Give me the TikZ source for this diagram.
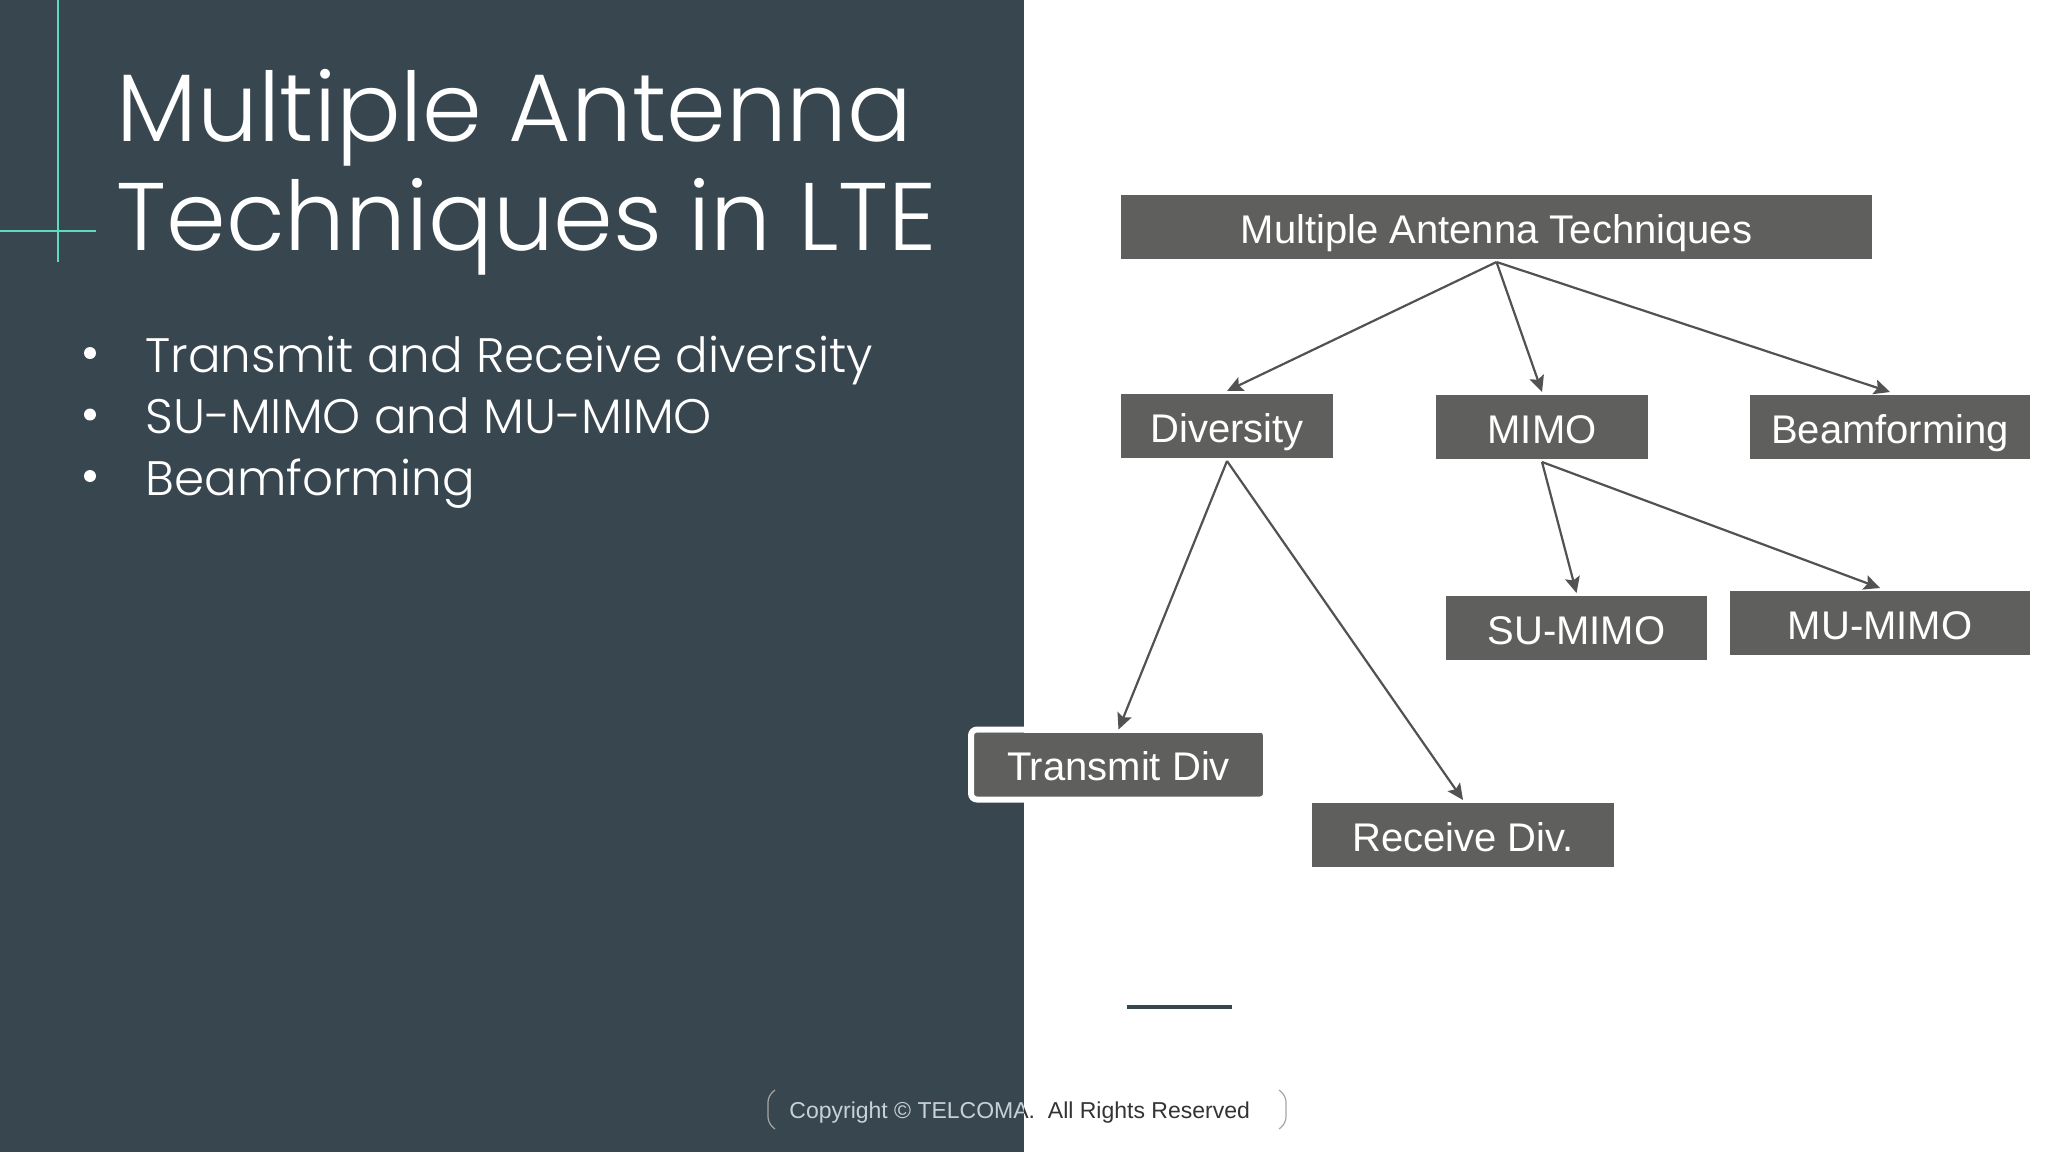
\documentclass[tikz,border=0pt]{standalone}
\usepackage{fontspec}
\usepackage{tikz}
\usetikzlibrary{arrows.meta,positioning,calc}
\setmainfont{Liberation Sans}
\newfontfamily\slidefont{Poppins Light}

\definecolor{panel}{HTML}{38474F}
\definecolor{accent}{HTML}{5FD9BF}
\definecolor{boxgray}{HTML}{5F605E}
\definecolor{arrowgray}{HTML}{525252}
\definecolor{footlight}{HTML}{C9D1D6}
\definecolor{footdark}{HTML}{333333}

\tikzset{
  techbox/.style={fill=boxgray, text=white, inner sep=0pt, outer sep=1.5pt,
    minimum height=32pt, text height=16pt, text depth=0pt, font=\fontsize{20}{24}\selectfont},
  branch/.style={draw=arrowgray, line width=1.1pt, -{Stealth[length=8pt,width=7.5pt,inset=1.5pt]}},
  slidetext/.style={anchor=base west, inner sep=0pt, text=white},
}

\begin{document}
\begin{tikzpicture}[x=0.5pt, y=-0.5pt]
  \useasboundingbox (0,0) rectangle (2048,1152);
  \fill[white] (0,0) rectangle (2048,1152);
  \fill[panel] (0,0) rectangle (1024,1152);
  \draw[accent, line width=1pt] (58,0) -- (58,262);
  \draw[accent, line width=1pt] (0,231) -- (96,231);

  % title
  \node[slidetext, font=\slidefont\fontsize{48}{50}\selectfont] (title1) at (116,141) {Multiple Antenna};
  \node[slidetext, font=\slidefont\fontsize{48}{50}\selectfont] (title2) at (116,250) {Techniques in LTE};

  % bullets
  \foreach \txt [count=\i] in {Transmit and Receive diversity, SU-MIMO and MU-MIMO, Beamforming}{
    \node[circle, fill=white, inner sep=0pt, minimum size=6pt] (dot\i) at ({90},{353+61.5*(\i-1)}) {};
    \node[slidetext, font=\slidefont\fontsize{24.2}{28}\selectfont] (item\i) at ({145},{372+61.5*(\i-1)}) {\txt};
  }

  % tree
  \node[techbox, minimum width=375.5pt] (mat)    at (1496.5,227) {Multiple Antenna Techniques};
  \node[techbox, minimum width=106pt]   (div)    at (1227,426)   {Diversity};
  \node[techbox, minimum width=106pt]   (mimo)   at (1542,427)   {MIMO};
  \node[techbox, minimum width=140pt]   (beam)   at (1890,427)   {Beamforming};
  \node[techbox, minimum width=130.5pt] (sumimo) at (1576.5,628) {SU-MIMO};
  \node[techbox, minimum width=150pt]   (mumimo) at (1880,623)   {MU-MIMO};
  \node[techbox, minimum width=144.5pt] (txdiv)  at (1118.5,764.5) {Transmit Div};
  \node[techbox, minimum width=151pt]   (rxdiv)  at (1463,835)   {Receive Div.};
  \draw[white, line width=3pt, rounded corners=3pt] (txdiv.north west) rectangle (txdiv.south east);

  \draw[branch] (mat.south) -- (div.north);
  \draw[branch] (mat.south) -- (mimo.north);
  \draw[branch] (mat.south) -- (beam.north);
  \draw[branch] (mimo.south) -- (sumimo.north);
  \draw[branch] (mimo.south) -- (mumimo.north);
  \draw[branch] (div.south) -- (txdiv.north);
  \draw[branch] (div.south) -- (rxdiv.north);

  \draw[panel, line width=2pt] (1127,1007) -- (1232,1007);

  % footer
  \begin{scope}
    \clip (0,1060) rectangle (1024,1152);
    \node[anchor=base west, inner sep=0pt, text=footlight, font=\fontsize{11.5}{14}\selectfont] (copyL) at (789,1118) {Copyright © TELCOMA.\ \ All Rights Reserved};
  \end{scope}
  \begin{scope}
    \clip (1024,1060) rectangle (2048,1152);
    \node[anchor=base west, inner sep=0pt, text=footdark, font=\fontsize{11.5}{14}\selectfont] (copyR) at (789,1118) {Copyright © TELCOMA.\ \ All Rights Reserved};
  \end{scope}
  \draw[gray!70, line width=0.6pt, rounded corners=3pt] (775,1090) -- (768,1096) -- (768,1123) -- (775,1129);
  \draw[gray!70, line width=0.6pt, rounded corners=3pt] (1279,1090) -- (1286,1096) -- (1286,1123) -- (1279,1129);
\end{tikzpicture}
\end{document}
